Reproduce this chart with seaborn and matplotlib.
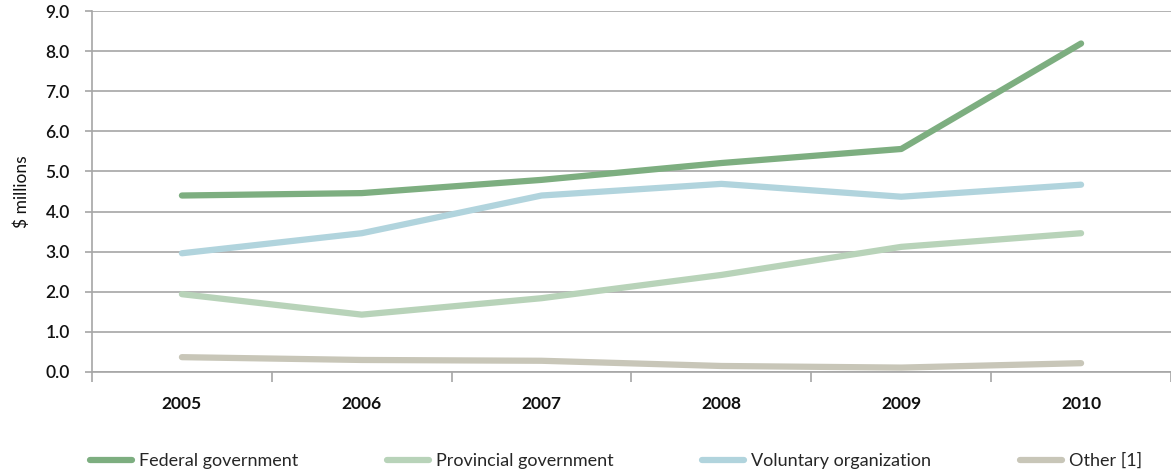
import matplotlib
matplotlib.use("Agg")
import matplotlib.pyplot as plt
from matplotlib.ticker import MultipleLocator, FixedLocator
import seaborn as sns
import pandas as pd

years = ["2005", "2006", "2007", "2008", "2009", "2010"]
federal = [4.40, 4.46, 4.79, 5.21, 5.56, 8.19]
provincial = [1.94, 1.43, 1.84, 2.42, 3.12, 3.46]
voluntary = [2.96, 3.46, 4.40, 4.69, 4.37, 4.67]
other = [0.37, 0.30, 0.28, 0.15, 0.11, 0.22]

series_names = ["Federal government", "Provincial government",
                "Voluntary organization", "Other [1]"]
series_values = [federal, provincial, voluntary, other]
colors = ["#7dae80", "#b8d3b9", "#b1d4dd", "#c8c6b8"]

rows = []
for name, vals in zip(series_names, series_values):
    for i, (yr, v) in enumerate(zip(years, vals)):
        rows.append({"pos": i, "year": yr, "value": v, "source": name})
df = pd.DataFrame(rows)

sns.set_theme(style="white")
plt.rcParams["font.family"] = ["Lato", "DejaVu Sans"]

fig = plt.figure(figsize=(11.71, 4.74), dpi=100)
ax = fig.add_axes([92 / 1171, 102 / 474, 1 - 92 / 1171, 361 / 474])

sns.lineplot(data=df, x="pos", y="value", hue="source",
             hue_order=series_names, palette=colors, linewidth=4.5,
             solid_capstyle="round", ax=ax, legend=True, zorder=3)

ax.set_xlim(-0.5, 5.5)
ax.set_ylim(0, 9)
ax.yaxis.set_major_locator(MultipleLocator(1))
ax.set_yticklabels([f"{v:.1f}" for v in ax.get_yticks()])
ax.yaxis.grid(True, color="#a6a6a6", linewidth=1.2, zorder=0)
ax.set_axisbelow(True)

ax.xaxis.set_major_locator(FixedLocator(range(len(years))))
ax.set_xticklabels(years, fontweight="bold", fontsize=12.5)
ax.xaxis.set_minor_locator(FixedLocator([i - 0.5 for i in range(len(years) + 1)]))
ax.tick_params(axis="x", which="major", length=0, pad=17, colors="#111111")
ax.tick_params(axis="x", which="minor", length=7, width=1.2, color="#a6a6a6",
               direction="out", bottom=True)
ax.tick_params(axis="y", length=5, width=1.2, color="#a6a6a6", direction="out",
               left=True, pad=11, labelsize=12.5, labelcolor="#111111")
for lab in ax.get_yticklabels():
    lab.set_fontweight("semibold")

for side in ("top", "right"):
    ax.spines[side].set_visible(False)
for side in ("left", "bottom"):
    ax.spines[side].set_color("#a6a6a6")
    ax.spines[side].set_linewidth(1.2)

ax.set_xlabel("")
ax.set_ylabel("$ millions", fontsize=12.5, labelpad=11, color="#111111")

handles, labels = ax.get_legend_handles_labels()
ax.get_legend().remove()
fig.legend(handles, labels, loc="lower left", ncol=4, mode="expand",
           bbox_to_anchor=(90 / 1171, 0.01, 1052 / 1171, 0.07),
           frameon=False, fontsize=13, handlelength=2.3, handletextpad=0.4,
           borderaxespad=0.0, borderpad=0.0)

fig.savefig("out.png", dpi=100)
